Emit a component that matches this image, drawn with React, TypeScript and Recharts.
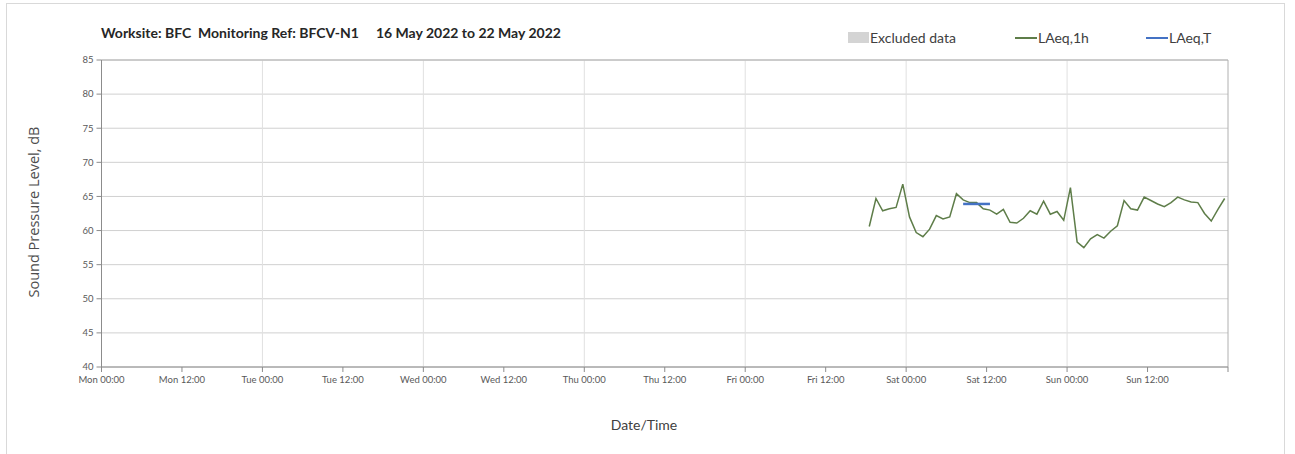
import { LineChart, Line, XAxis, YAxis, CartesianGrid, ReferenceLine } from 'recharts'

// Hourly LAeq,1h samples, plotted at the half hour (hours from Mon 00:00)
const firstSampleHour = 114.5
const laeq1h = [
  60.6, 64.7, 62.9, 63.2, 63.4, 66.8, 62.0, 59.7, 59.1, 60.2,
  62.2, 61.7, 62.0, 65.4, 64.5, 64.1, 64.1, 63.2, 63.0, 62.4,
  63.1, 61.2, 61.1, 61.8, 62.9, 62.4, 64.3, 62.4, 62.8, 61.5,
  66.3, 58.3, 57.5, 58.8, 59.4, 58.9, 59.9, 60.7, 64.4, 63.2,
  63.0, 64.9, 64.4, 63.9, 63.5, 64.1, 64.9, 64.5, 64.2, 64.1,
  62.5, 61.4, 63.1, 64.7,
]

// Period average LAeq,T
const laeqTHours = [128.5, 132.5]
const laeqTValue = 63.9

const dayNames = ['Mon', 'Tue', 'Wed', 'Thu', 'Fri', 'Sat', 'Sun']
const xTicks = [0, 12, 24, 36, 48, 60, 72, 84, 96, 108, 120, 132, 144, 156, 168]
const dayLines = [24, 48, 72, 96, 120, 144]
const yTicks = [40, 45, 50, 55, 60, 65, 70, 75, 80, 85]

const hourlyData = laeq1h.map((v, i) => ({ t: firstSampleHour + i, v }))
const periodData = laeqTHours.map((t) => ({ t, v: laeqTValue }))

const FONT = 'Lato, "Open Sans", sans-serif'
const GREEN = '#5e7d49'
const BLUE = '#4472c4'
const AXIS = '#8c8c8c'

function formatHour(t: number) {
  if (t >= 168) return ''
  const day = dayNames[Math.floor(t / 24)]
  return `${day} ${t % 24 === 0 ? '00:00' : '12:00'}`
}

const tickStyle = { fill: '#595959', fontSize: 9.5, fontFamily: FONT }
const legendItem = {
  position: 'absolute' as const,
  top: 29,
  fontSize: 14,
  color: '#404040',
  display: 'flex',
  alignItems: 'center',
}

export default function App() {
  return (
    <div
      style={{
        position: 'absolute',
        left: 0,
        top: 0,
        width: 1295,
        height: 454,
        overflow: 'hidden',
        background: '#fff',
        fontFamily: FONT,
      }}
    >
      <div
        style={{
          position: 'absolute',
          left: 6,
          top: 3,
          width: 1279,
          height: 480,
          border: '1px solid #d9d9d9',
          boxSizing: 'border-box',
        }}
      />
      <div
        style={{
          position: 'absolute',
          left: 101,
          top: 24,
          fontSize: 14,
          fontWeight: 700,
          color: '#262626',
          whiteSpace: 'pre',
        }}
      >
        {'Worksite: BFC  Monitoring Ref: BFCV-N1     16 May 2022 to 22 May 2022'}
      </div>

      {/* legend */}
      <div style={{ ...legendItem, left: 848 }}>
        <span style={{ width: 21, height: 11, background: '#d4d4d4', display: 'inline-block', marginRight: 1 }} />
        Excluded data
      </div>
      <div style={{ ...legendItem, left: 1015 }}>
        <span style={{ width: 22, height: 2, background: GREEN, display: 'inline-block', marginRight: 1 }} />
        LAeq,1h
      </div>
      <div style={{ ...legendItem, left: 1146 }}>
        <span style={{ width: 22, height: 2, background: BLUE, display: 'inline-block', marginRight: 1 }} />
        LAeq,T
      </div>

      <div
        style={{
          position: 'absolute',
          left: 33,
          top: 212,
          transform: 'translate(-50%, -50%) rotate(-90deg)',
          fontSize: 14.5,
          color: '#4d4d4d',
          whiteSpace: 'nowrap',
          fontFamily: '"Open Sans", sans-serif',
        }}
      >
        Sound Pressure Level, dB
      </div>
      <div
        style={{
          position: 'absolute',
          left: 644,
          top: 424,
          transform: 'translate(-50%, -50%)',
          fontSize: 14,
          color: '#404040',
        }}
      >
        Date/Time
      </div>

      <div style={{ position: 'absolute', left: 0, top: 0 }}>
        <LineChart width={1295} height={454} margin={{ top: 60, right: 67, bottom: 57, left: 61.5 }}>
          <CartesianGrid vertical={false} stroke="#d0d0d0" />
          {dayLines.map((d) => (
            <ReferenceLine key={d} x={d} stroke="#e0e0e0" />
          ))}
          <ReferenceLine y={85} stroke="#b0b0b0" />
          <ReferenceLine x={168} stroke="#b0b0b0" />
          <XAxis
            dataKey="t"
            type="number"
            domain={[0, 168]}
            ticks={xTicks}
            tickFormatter={formatHour}
            tick={tickStyle}
            tickSize={5}
            tickMargin={4}
            stroke={AXIS}
            height={30}
            allowDataOverflow
          />
          <YAxis
            type="number"
            domain={[40, 85]}
            ticks={yTicks}
            tick={tickStyle}
            tickSize={5}
            tickMargin={3}
            stroke={AXIS}
            width={40}
          />
          <Line
            data={hourlyData}
            dataKey="v"
            type="linear"
            stroke={GREEN}
            strokeWidth={1.5}
            dot={false}
            isAnimationActive={false}
          />
          <Line
            data={periodData}
            dataKey="v"
            type="linear"
            stroke={BLUE}
            strokeWidth={2.5}
            dot={false}
            isAnimationActive={false}
          />
        </LineChart>
      </div>
    </div>
  )
}
